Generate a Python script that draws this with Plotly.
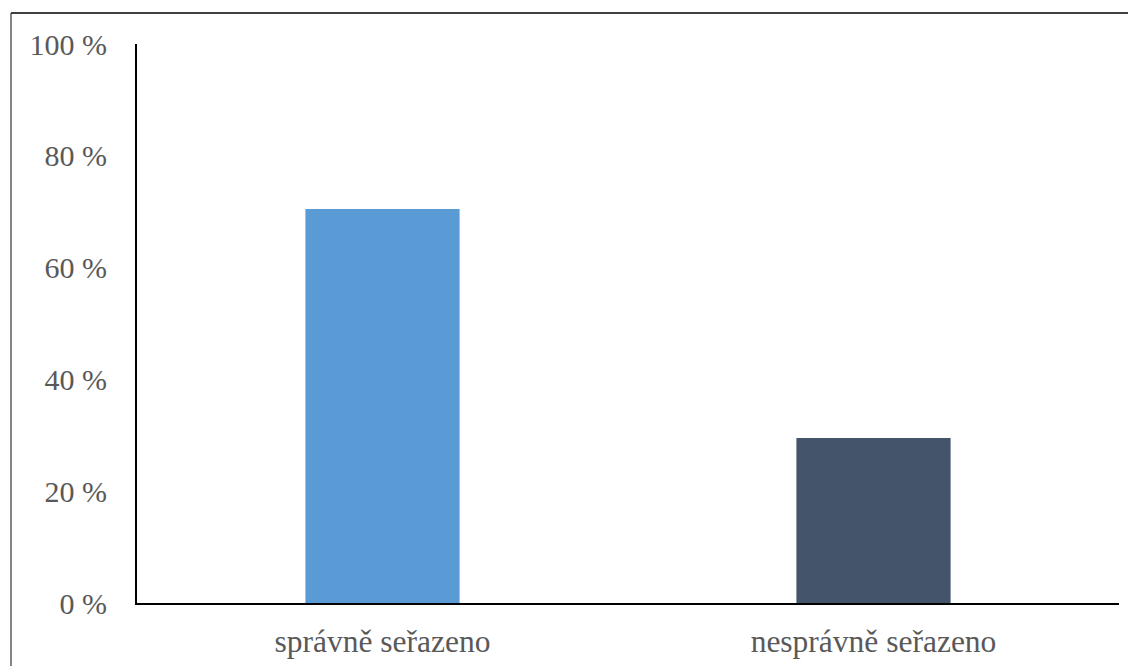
import plotly.graph_objects as go

categories = ["správně seřazeno", "nesprávně seřazeno"]
values = [70.5, 29.5]
bar_colors = ["#5B9BD5", "#44546A"]
tick_vals = [0, 20, 40, 60, 80, 100]
tick_text = ["0 %", "20 %", "40 %", "60 %", "80 %", "100 %"]

# page body has an 8px margin; figure is offset by it and runs to the window edges
OFF = 8
W, H = 1136 - OFF, 666 - OFF
L, R, T = 137 - OFF, 17, 44 - OFF
B = (OFF + H) - 603
pw, ph = W - L - R, H - T - B

fig = go.Figure(go.Bar(
    x=categories, y=values, marker_color=bar_colors, width=0.314,
    marker_line_width=0, hoverinfo="skip"))

fam = "Liberation Serif, Times New Roman, serif"
yfont = dict(family=fam, size=30, color="#595959")
xfont = dict(family=fam, size=31.5, color="#595959")

top_y = (H - B - (13 - OFF)) / ph
left_x = (11 - OFF - L) / pw

fig.update_layout(
    width=W, height=H, margin=dict(l=L, r=R, t=T, b=B),
    plot_bgcolor="white", paper_bgcolor="white", showlegend=False,
    font=yfont,
    xaxis=dict(showline=True, linecolor="black", linewidth=2, showgrid=False,
               ticks="", tickfont=xfont, ticklabelstandoff=9, automargin=False),
    yaxis=dict(range=[0, 100], showline=True, linecolor="black", linewidth=2,
               showgrid=False, zeroline=False, tickvals=tick_vals, ticktext=tick_text,
               ticks="", tickfont=yfont, ticklabelstandoff=22, automargin=False),
    shapes=[
        dict(type="line", xref="paper", yref="paper",
             x0=left_x, x1=(W + 20 - L) / pw, y0=top_y, y1=top_y,
             line=dict(color="black", width=1.5)),
        dict(type="line", xref="paper", yref="paper",
             x0=left_x, x1=left_x, y0=top_y, y1=-0.5,
             line=dict(color="#333333", width=1.2)),
    ],
)

fig.write_html("out.html")
